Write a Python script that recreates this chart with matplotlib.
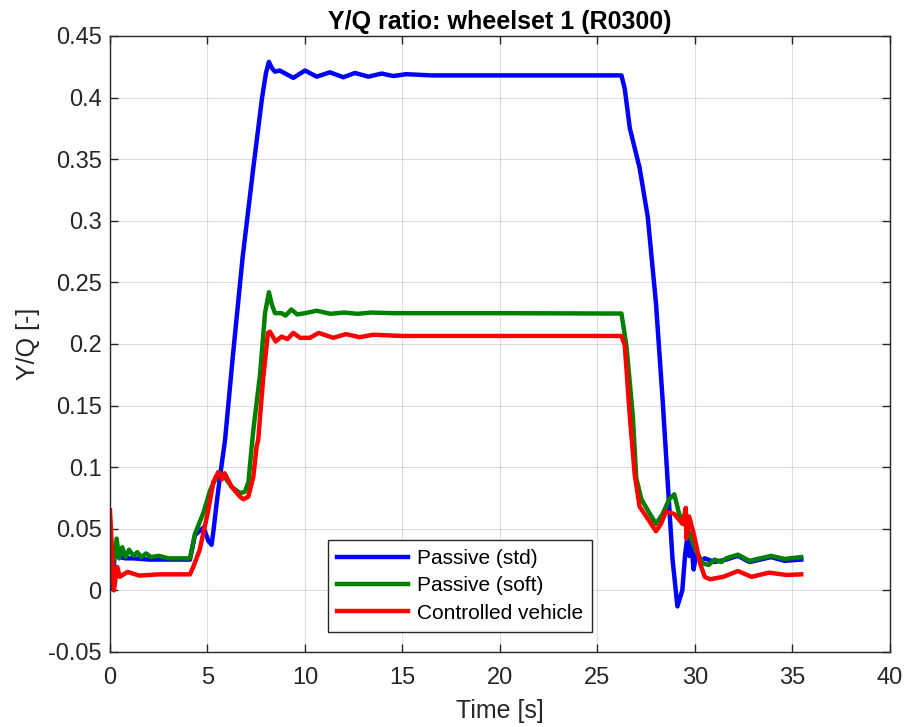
import matplotlib
matplotlib.use('Agg')
import matplotlib.pyplot as plt

plt.rcParams['font.family'] = ['Liberation Sans', 'DejaVu Sans']

# Passive (std)
t_std = [0, 0.1, 0.25, 0.5, 0.8, 1.2, 2.0, 4.1, 4.36, 4.8, 5.05, 5.21, 5.32, 5.47, 5.64,
         5.9, 6.3, 6.8, 7.35, 7.8, 8.0, 8.15, 8.3, 8.46, 8.7, 9.05, 9.4, 10.0, 10.6, 11.28,
         11.97, 12.56, 13.25, 13.93, 14.53, 15.2, 16.5, 20, 26.23, 26.4, 26.66, 27.16, 27.58,
         28.0, 28.34, 28.68, 28.85, 29.1, 29.35, 29.5, 29.6, 29.7, 29.8, 29.93, 30.07, 30.3,
         30.5, 31.0, 31.6, 32.2, 32.8, 33.9, 34.6, 35.45]
yq_std = [0.03, 0.002, 0.03, 0.027, 0.026, 0.026, 0.025, 0.025, 0.045, 0.051, 0.04, 0.037,
          0.05, 0.071, 0.092, 0.122, 0.19, 0.27, 0.343, 0.40, 0.42, 0.429, 0.424, 0.421, 0.422,
          0.419, 0.416, 0.422, 0.417, 0.4205, 0.4165, 0.42, 0.417, 0.4195, 0.4175, 0.419, 0.418,
          0.418, 0.418, 0.407, 0.375, 0.343, 0.303, 0.233, 0.155, 0.068, 0.025, -0.013, 0.0,
          0.03, 0.042, 0.028, 0.04, 0.017, 0.03, 0.024, 0.026, 0.023, 0.025, 0.028, 0.023,
          0.027, 0.024, 0.025]

# Passive (soft)
t_soft = [0, 0.15, 0.34, 0.47, 0.63, 0.8, 0.98, 1.2, 1.4, 1.6, 1.85, 2.1, 2.5, 3.0, 4.1,
          4.36, 4.79, 5.13, 5.4, 5.56, 5.75, 5.88, 6.24, 6.67, 6.92, 7.1, 7.27, 7.35, 7.7,
          7.95, 8.15, 8.3, 8.46, 8.8, 9.0, 9.3, 9.6, 10.0, 10.6, 11.3, 12.0, 12.7, 13.4, 14.5,
          16, 20, 26.23, 26.49, 26.82, 26.99, 27.25, 27.58, 28.0, 28.34, 28.68, 28.94, 29.19,
          29.61, 30.03, 30.4, 30.7, 31.0, 31.35, 31.6, 32.2, 32.8, 33.9, 34.6, 35.45]
yq_soft = [0.03, 0.02, 0.042, 0.026, 0.035, 0.027, 0.033, 0.028, 0.031, 0.027, 0.03, 0.027,
           0.028, 0.026, 0.026, 0.046, 0.063, 0.081, 0.09, 0.096, 0.094, 0.092, 0.084, 0.079,
           0.08, 0.088, 0.117, 0.13, 0.176, 0.225, 0.242, 0.232, 0.225, 0.225, 0.223, 0.228,
           0.224, 0.225, 0.227, 0.2245, 0.2255, 0.2245, 0.2255, 0.225, 0.225, 0.225, 0.2247,
           0.198, 0.14, 0.091, 0.074, 0.065, 0.054, 0.062, 0.074, 0.078, 0.062, 0.05, 0.033,
           0.022, 0.0206, 0.025, 0.023, 0.026, 0.029, 0.024, 0.028, 0.0255, 0.027]

# Controlled vehicle
t_ctrl = [0, 0.2, 0.37, 0.5, 0.7, 0.9, 1.5, 2.5, 4.1, 4.27, 4.6, 5.0, 5.3, 5.56, 5.73, 5.88,
          6.24, 6.67, 6.84, 7.09, 7.35, 7.52, 7.6, 7.85, 8.1, 8.2, 8.5, 8.8, 9.1, 9.4, 9.75,
          10.25, 10.7, 11.45, 12.1, 12.8, 13.5, 15, 20, 26.23, 26.4, 26.66, 26.91, 27.16,
          27.67, 28.0, 28.26, 28.51, 28.94, 29.36, 29.53, 29.56, 29.7, 29.95, 30.26, 30.5,
          30.77, 31.45, 32.2, 32.9, 33.8, 34.7, 35.45]
yq_ctrl = [0.065, 0.0, 0.019, 0.011, 0.013, 0.015, 0.012, 0.013, 0.013, 0.019, 0.033, 0.062,
           0.088, 0.096, 0.09, 0.095, 0.084, 0.076, 0.074, 0.076, 0.092, 0.117, 0.122, 0.171,
           0.209, 0.21, 0.202, 0.206, 0.204, 0.209, 0.205, 0.205, 0.209, 0.205, 0.208, 0.2055,
           0.2075, 0.2065, 0.2065, 0.2065, 0.199, 0.141, 0.094, 0.068, 0.056, 0.048, 0.054,
           0.064, 0.062, 0.054, 0.067, 0.042, 0.06, 0.045, 0.022, 0.011, 0.009, 0.011, 0.0157,
           0.011, 0.0144, 0.0125, 0.013]

labels = ['Passive (std)', 'Passive (soft)', 'Controlled vehicle']
colors = ['#0000FF', '#008000', '#FF0000']

fig = plt.figure(figsize=(9.06, 7.27), dpi=100)
ax = fig.add_axes([0.1214, 0.1032, 0.8609, 0.8473])

for t, y, lab, c in zip([t_std, t_soft, t_ctrl], [yq_std, yq_soft, yq_ctrl], labels, colors):
    ax.plot(t, y, color=c, lw=3.2, label=lab, solid_joinstyle='round')

ax.set_xlim(0, 40)
ax.set_ylim(-0.05, 0.45)
ax.set_xticks(range(0, 41, 5))
ax.set_yticks([-0.05, 0, 0.05, 0.1, 0.15, 0.2, 0.25, 0.3, 0.35, 0.4, 0.45])
ax.set_yticklabels(['-0.05', '0', '0.05', '0.1', '0.15', '0.2', '0.25', '0.3', '0.35', '0.4', '0.45'])
ax.grid(True, color='#262626', alpha=0.15, lw=0.8)
ax.tick_params(direction='in', length=6, width=1, top=True, right=True,
               labelsize=17, colors='#262626', pad=6)
ax.tick_params(axis='x', pad=11)
for s in ax.spines.values():
    s.set_color('#262626')
    s.set_linewidth(1)

ax.set_title('Y/Q ratio: wheelset 1 (R0300)', fontsize=18, fontweight='bold', pad=5)
ax.set_xlabel('Time [s]', fontsize=18, color='#262626', labelpad=7)
ax.set_ylabel('Y/Q [-]', fontsize=18, color='#262626', labelpad=6)

leg = ax.legend(loc='lower left', bbox_to_anchor=(0.2795, 0.0325), borderaxespad=0,
                fontsize=15, fancybox=False, framealpha=1, handlelength=3.4,
                handletextpad=0.4, labelspacing=0.4, borderpad=0.45)
leg.get_frame().set_edgecolor('#262626')
leg.get_frame().set_linewidth(1)

fig.savefig('out.png', dpi=100)
